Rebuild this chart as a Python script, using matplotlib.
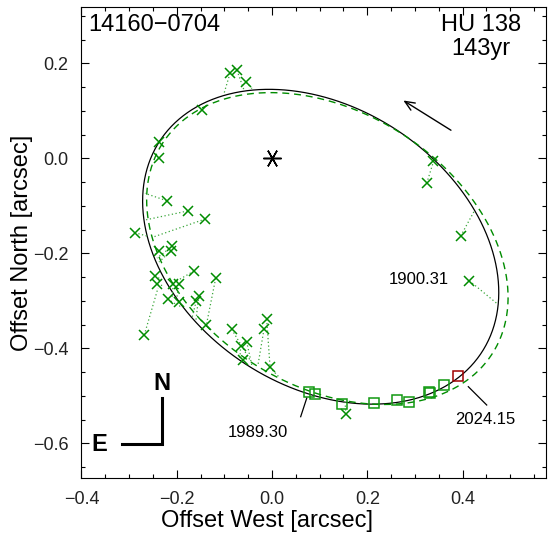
import numpy as np
import matplotlib
matplotlib.use("Agg")
import matplotlib.pyplot as plt
from matplotlib.ticker import MultipleLocator

# ---------------- data (arcsec) ----------------
# visual (micrometer) measures: observed positions and their positions on the orbit
obs_x = [-0.0881, -0.0735, -0.0539, -0.1469, -0.2365, -0.2378, -0.2210, -0.1769, -0.1400,
         -0.2881, -0.2378, -0.2092, -0.2126, -0.1637, -0.2455, -0.2407, -0.2071, -0.1945,
         -0.1182, -0.2189, -0.1952, -0.1538, -0.1589, -0.2680, -0.1385, -0.0846, -0.0657,
         -0.0531, -0.0615, -0.0111, -0.0168, -0.0048, 0.3385, 0.3247, 0.3960, 0.4141, 0.1553]
obs_y = [0.1789, 0.1853, 0.1600, 0.1017, 0.0337, 0.0000, -0.0893, -0.1109, -0.1278,
         -0.1566, -0.1958, -0.1853, -0.1958, -0.2373, -0.2472, -0.2653, -0.2653, -0.2653,
         -0.2526, -0.2962, -0.3019, -0.2899, -0.3004, -0.3720, -0.3509, -0.3600, -0.3945,
         -0.3861, -0.4246, -0.3389, -0.3600, -0.4400, -0.0051, -0.0526, -0.1636, -0.2577, -0.5389]
mod_x = [-0.1007, -0.0588, -0.0420, -0.1511, -0.2350, -0.2413, -0.2665, -0.2665, -0.2491,
         -0.2623, -0.2455, -0.2413, -0.2371, -0.2036, -0.2308, -0.2267, -0.2099, -0.2015,
         -0.1370, -0.1994, -0.1931, -0.1595, -0.1679, -0.2392, -0.1343, -0.0462, -0.0672,
         -0.0420, -0.0567, -0.0042, -0.0294, 0.0168, 0.3379, 0.3379, 0.4246, 0.4716, 0.1532]
mod_y = [0.1364, 0.1438, 0.1469, 0.0975, 0.0343, 0.0027, -0.0737, -0.1299, -0.1657,
         -0.1636, -0.2015, -0.2099, -0.2183, -0.2604, -0.2562, -0.2688, -0.2941, -0.3025,
         -0.3474, -0.3088, -0.3152, -0.3404, -0.3362, -0.2731, -0.3552, -0.4246, -0.4204,
         -0.4373, -0.4288, -0.4373, -0.4352, -0.4625, -0.0057, -0.0099, -0.1109, -0.3053, -0.5131]
# speckle measures
spk_x = [0.0783, 0.0902, 0.1463, 0.2141, 0.2617, 0.2881, 0.3295, 0.3316, 0.3616]
spk_y = [-0.4914, -0.4968, -0.5166, -0.5145, -0.5088, -0.5124, -0.4914, -0.4941, -0.4773]
last_x, last_y = [0.3897], [-0.4589]

# apparent orbit ellipses: centre x, centre y, semi-major, semi-minor, position angle (deg)
orbit_new = [0.1022, -0.1862, 0.4045, 0.2930, 146.28]
orbit_old = [0.1162, -0.1900, 0.4108, 0.2878, 147.41]

epoch_labels = ['1900.31', '1989.30', '2024.15']
name_left = '14160\u22120704'
name_right = 'HU 138\n143yr'


def ell(x0, y0, a, b, th):
    t = np.linspace(0, 2*np.pi, 500)
    r = np.radians(th)
    u, v = a*np.cos(t), b*np.sin(t)
    return x0 + u*np.cos(r) - v*np.sin(r), y0 + u*np.sin(r) + v*np.cos(r)


plt.rcParams['font.family'] = ['Liberation Sans', 'DejaVu Sans']
fig = plt.figure(figsize=(5.49, 5.38), dpi=100)
ax = fig.add_axes([81/549, 1-478.3/538, (546-81)/549, (478.3-6.7)/538])
ax.set_xlim(-0.4008, (546-272)/476.5)
ax.set_ylim((158.3-478.3)/475, (158.3-6.7)/475)

green = '#008c00'
ex, ey = ell(*orbit_new)
ax.plot(ex, ey, color='black', lw=0.9)
dx, dy = ell(*orbit_old)
ax.plot(dx, dy, color=green, lw=1.0, dashes=(5, 3.5))

for ox, oy, mx, my in zip(obs_x, obs_y, mod_x, mod_y):
    ax.plot([ox, mx], [oy, my], color='#3aa63a', lw=0.9, linestyle=(0, (1, 2)))
ax.plot(obs_x, obs_y, 'x', color=green, ms=6.5, mew=1.1)
ax.plot(spk_x, spk_y, 's', mfc='none', mec='#119911', ms=6.5, mew=1.1)
ax.plot(last_x, last_y, 's', mfc='none', mec='#a00000', ms=6.5, mew=1.1)
ax.plot([0], [0], marker=(6, 2, 90), color='black', ms=13, mew=1.1)

ax.annotate('', xy=(0.2707, 0.1248), xytext=(0.3805, 0.0560),
            arrowprops=dict(arrowstyle='->,head_length=0.7,head_width=0.3', lw=1.0, color='black'))

ax.text(0.3085, -0.2547, epoch_labels[0], ha='center', va='center', fontsize=12)
ax.plot([0.0728, 0.0602], [-0.5053, -0.5440], color='black', lw=0.9)
ax.text(-0.029, -0.5783, epoch_labels[1], ha='center', va='center', fontsize=12)
ax.plot([0.412, 0.4506], [-0.4808, -0.5194], color='black', lw=0.9)
ax.text(0.4481, -0.5495, epoch_labels[2], ha='center', va='center', fontsize=12)

ax.text(0.015, 0.985, name_left, transform=ax.transAxes, ha='left', va='top', fontsize=17)
ax.text(0.86, 0.985, name_right, transform=ax.transAxes, ha='center', va='top', fontsize=17,
        linespacing=1.15)

# N-E indicator
ax.plot([-0.2317, -0.2317, -0.3156], [-0.5053, -0.6021, -0.6021], color='black', lw=2.2,
        solid_joinstyle='miter')
ax.text(-0.2317, -0.4747, 'N', ha='center', va='center', fontsize=17, fontweight='bold')
ax.text(-0.3622, -0.6021, 'E', ha='center', va='center', fontsize=17, fontweight='bold')

ax.xaxis.set_major_locator(MultipleLocator(0.2))
ax.xaxis.set_minor_locator(MultipleLocator(0.05))
ax.yaxis.set_major_locator(MultipleLocator(0.2))
ax.yaxis.set_minor_locator(MultipleLocator(0.05))
ax.tick_params(which='both', direction='in', top=True, right=True, labelsize=13, width=0.8,
               labelcolor='#222222')
ax.tick_params(which='major', length=6, pad=9)
ax.tick_params(which='minor', length=3.2)
for s in ax.spines.values():
    s.set_linewidth(0.8)
ax.set_xlabel('Offset West [arcsec]', fontsize=17)
ax.xaxis.set_label_coords((266.7-81)/465, -0.068)
ax.set_ylabel('Offset North [arcsec]', fontsize=17)
ax.yaxis.set_label_coords((33-81)/465, 0.5)

fig.savefig('out.png', dpi=100)
